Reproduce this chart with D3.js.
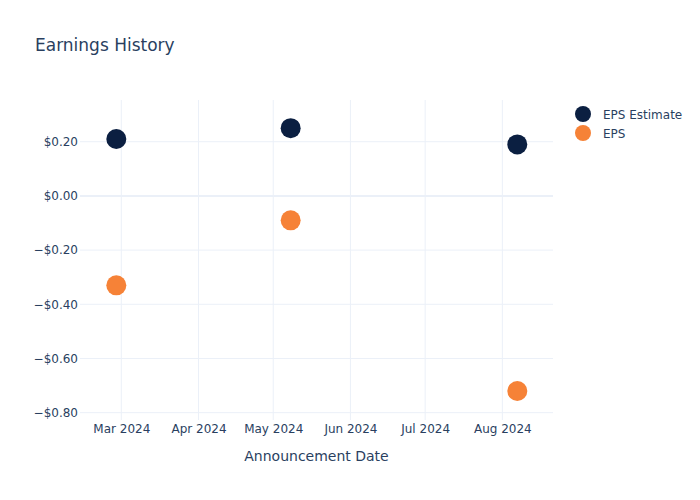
<!DOCTYPE html>
<html>
<head>
<meta charset="utf-8">
<script src="https://cdn.jsdelivr.net/npm/d3@7"></script>
<style>
  html, body { margin: 0; padding: 0; background: #fff; }
  svg { display: block; font-family: "DejaVu Sans", Verdana, sans-serif; }
</style>
</head>
<body>
<svg id="chart" width="700" height="500"></svg>
<script>
// ---- data ----
const dates = ["2024-02-28", "2024-05-08", "2024-08-07"];
const epsEstimate = [0.21, 0.25, 0.19];
const epsActual = [-0.33, -0.09, -0.72];
const yTicks = [0.2, 0, -0.2, -0.4, -0.6, -0.8];
const xTickDates = ["2024-03-01", "2024-04-01", "2024-05-01", "2024-06-01", "2024-07-01", "2024-08-01"];
const seriesNames = ["EPS Estimate", "EPS"];
const seriesColors = ["#0b1f41", "#f68237"];
const titleText = "Earnings History";
const xAxisTitle = "Announcement Date";

// ---- layout ----
const W = 700, H = 500;
const m = { l: 80, r: 147, t: 100, b: 80 };
const pw = W - m.l - m.r, ph = H - m.t - m.b;
const textColor = "#2a3f5f";
const gridColor = "#ebf0f8";

const parse = d3.utcParse("%Y-%m-%d");
const svg = d3.select("#chart");

const x = d3.scaleUtc()
  .domain([new Date(Date.UTC(2024, 1, 13, 10)), new Date(Date.UTC(2024, 7, 21, 8))])
  .range([m.l, m.l + pw]);
const y = d3.scaleLinear().domain([-0.827, 0.354]).range([m.t + ph, m.t]);

const fmtY = d => (d < 0 ? "\u2212" : "") + "$" + Math.abs(d).toFixed(2);
const fmtX = d3.utcFormat("%b %Y");

// grid lines
const g = svg.append("g");
g.selectAll("line.vx").data(xTickDates.map(parse)).join("line")
  .attr("x1", d => x(d)).attr("x2", d => x(d))
  .attr("y1", m.t).attr("y2", m.t + ph)
  .attr("stroke", gridColor).attr("stroke-width", 1);
g.selectAll("line.hy").data(yTicks).join("line")
  .attr("x1", m.l).attr("x2", m.l + pw)
  .attr("y1", d => y(d)).attr("y2", d => y(d))
  .attr("stroke", gridColor).attr("stroke-width", d => d === 0 ? 2 : 1);

// axes via d3 axis generators
const yAxis = d3.axisLeft(y).tickValues(yTicks).tickFormat(fmtY).tickSize(0).tickPadding(2);
svg.append("g").attr("transform", `translate(${m.l},0)`).call(yAxis)
  .call(s => s.select(".domain").remove())
  .selectAll("text").attr("fill", textColor).attr("font-size", 12)
  .attr("font-family", "DejaVu Sans, Verdana, sans-serif");

const xAxis = d3.axisBottom(x).tickValues(xTickDates.map(parse)).tickFormat(fmtX).tickSize(0).tickPadding(4.5);
svg.append("g").attr("transform", `translate(0,${m.t + ph})`).call(xAxis)
  .call(s => s.select(".domain").remove())
  .selectAll("text").attr("fill", textColor).attr("font-size", 12)
  .attr("font-family", "DejaVu Sans, Verdana, sans-serif");

// points
const series = [epsEstimate, epsActual];
series.forEach((vals, i) => {
  svg.append("g").selectAll("circle").data(vals).join("circle")
    .attr("cx", (d, j) => x(parse(dates[j])))
    .attr("cy", d => y(d))
    .attr("r", 10)
    .attr("fill", seriesColors[i]);
});

// title
svg.append("text").attr("x", 35).attr("y", 51)
  .attr("fill", textColor).attr("font-size", 17).text(titleText);

// x-axis title
svg.append("text").attr("x", m.l + pw / 2).attr("y", 461)
  .attr("text-anchor", "middle").attr("fill", textColor).attr("font-size", 14)
  .text(xAxisTitle);

// legend
const leg = svg.append("g");
seriesNames.forEach((name, i) => {
  const yy = 114 + i * 19;
  leg.append("circle").attr("cx", 583).attr("cy", yy).attr("r", 8).attr("fill", seriesColors[i]);
  leg.append("text").attr("x", 603).attr("y", yy + 4.5)
    .attr("fill", textColor).attr("font-size", 12).text(name);
});
</script>
</body>
</html>
